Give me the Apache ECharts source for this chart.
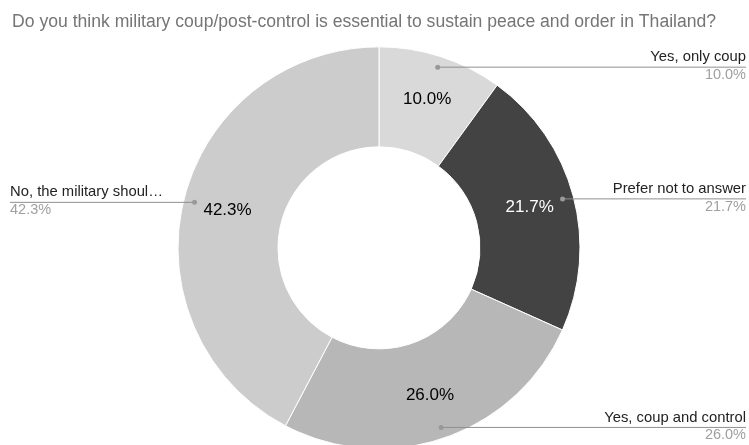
<!DOCTYPE html>
<html>
<head>
<meta charset="utf-8">
<script src="https://cdn.jsdelivr.net/npm/echarts@6/dist/echarts.min.js"></script>
<style>
html,body{margin:0;padding:0;background:#fff;}
#c{width:749px;height:445px;}
</style>
</head>
<body>
<div id="c"></div>
<script>
var titleText = 'Do you think military coup/post-control is essential to sustain peace and order in Thailand?';
var categories = ['Yes, only coup', 'Prefer not to answer', 'Yes, coup and control', 'No, the military shoul\u2026'];
var values = [10.0, 21.7, 26.0, 42.3];
var sliceColors = ['#d9d9d9', '#434343', '#b7b7b7', '#cccccc'];
var innerLabelColors = ['#000000', '#ffffff', '#000000', '#000000'];

var chart = echarts.init(document.getElementById('c'), null, {renderer: 'canvas'});
var W = 749;
var center = ['50.6%', '55.7%'];
var FONT = 'Liberation Sans, Arial, sans-serif';

function pct(v){ return v.toFixed(1) + '%'; }

var mainData = categories.map(function(c, i){
  return {name: c, value: values[i], itemStyle: {color: sliceColors[i]}};
});
var labelData = categories.map(function(c, i){
  return {name: c, value: values[i], label: {color: innerLabelColors[i]}};
});
var plainData = categories.map(function(c, i){ return {name: c, value: values[i]}; });

var option = {
  animation: false,
  title: {
    text: titleText, left: 7, top: 8,
    textStyle: {fontFamily: FONT, fontSize: 17.6, fontWeight: 'normal', color: '#757575'}
  },
  series: [
    {
      type: 'pie', center: center, radius: [101, 201], startAngle: 90, clockwise: true,
      silent: true, data: mainData, z: 2,
      itemStyle: {borderColor: '#ffffff', borderWidth: 1},
      label: {show: false}, labelLine: {show: false}
    },
    {
      type: 'pie', center: center, radius: [101, 205], startAngle: 90, silent: true, z: 4,
      data: labelData,
      itemStyle: {color: 'rgba(0,0,0,0)'},
      label: {show: true, position: 'inside', fontFamily: FONT, fontSize: 17,
        formatter: function(p){ return pct(p.value); }},
      labelLine: {show: false}
    },
    {
      type: 'pie', center: center, radius: [0, 190], startAngle: 90, silent: true, z: 5,
      data: plainData,
      itemStyle: {color: 'rgba(0,0,0,0)'},
      label: {show: true, position: 'outside',
        formatter: function(p){ return '{n|' + p.name + '}\n{p|' + pct(p.value) + '}'; },
        rich: {
          n: {fontFamily: FONT, fontSize: 14.8, color: '#222222', lineHeight: 18},
          p: {fontFamily: FONT, fontSize: 14.5, color: '#a0a0a0', lineHeight: 18}
        }
      },
      labelLine: {show: true, length: 5, length2: 5, lineStyle: {color: '#8f8f8f', width: 1}},
      labelLayout: function(p){
        var pts = p.labelLinePoints;
        if (!pts) return {};
        var s = pts[0];
        var cx = W * 0.506;
        var right = s[0] > cx;
        var ex = right ? W - 3 : 10;
        return {
          x: ex, y: s[1] - 1, align: right ? 'right' : 'left', verticalAlign: 'middle',
          labelLinePoints: [[s[0], s[1]], [ex, s[1]], [ex, s[1]]]
        };
      }
    },
    {
      type: 'pie', center: center, radius: [183, 191], startAngle: 90, silent: true, z: 6,
      data: plainData,
      itemStyle: {color: 'rgba(0,0,0,0)'},
      label: {show: true, position: 'inside', formatter: '{d| }',
        rich: {d: {width: 5, height: 5, borderRadius: 2.5, backgroundColor: '#999999', fontSize: 1, lineHeight: 5}}},
      labelLine: {show: false}
    }
  ]
};
chart.setOption(option);
</script>
</body>
</html>
